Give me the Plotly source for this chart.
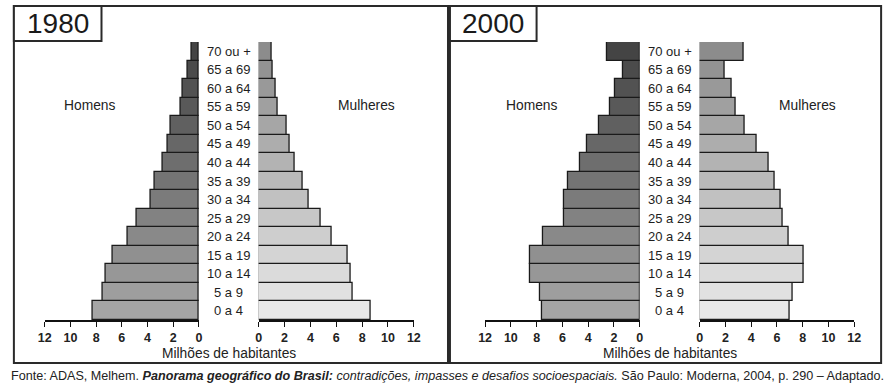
import plotly.graph_objects as go

W, H = 895, 389

age_groups = ["0 a 4", "5 a 9", "10 a 14", "15 a 19", "20 a 24", "25 a 29", "30 a 34",
              "35 a 39", "40 a 44", "45 a 49", "50 a 54", "55 a 59", "60 a 64", "65 a 69", "70 ou +"]

men_1980 = [8.25, 7.48, 7.25, 6.71, 5.57, 4.88, 3.72, 3.42, 2.81, 2.43, 2.2, 1.45, 1.28, 0.84, 0.54]
women_1980 = [8.65, 7.28, 7.13, 6.9, 5.61, 4.77, 3.85, 3.40, 2.79, 2.41, 2.18, 1.49, 1.34, 1.11, 0.99]
men_2000 = [7.55, 7.75, 8.51, 8.51, 7.52, 5.84, 5.84, 5.53, 4.66, 4.08, 3.16, 2.32, 1.94, 1.3, 2.5]
women_2000 = [7.0, 7.23, 8.07, 8.07, 6.93, 6.47, 6.29, 5.83, 5.32, 4.4, 3.49, 2.8, 2.49, 1.93, 3.41]

tick_vals = [0, 2, 4, 6, 8, 10, 12]
axis_title = "Milhões de habitantes"
years = ["1980", "2000"]
side_labels = ["Homens", "Mulheres"]


def px_x(p):
    return p / W


def px_y(p):
    return 1 - p / H


def grey(v):
    v = int(round(v))
    return f"rgb({v},{v},{v})"


n = len(age_groups)
men_colors = [grey(165 - (165 - 68) * i / (n - 1)) for i in range(n)]
women_colors = [grey(232 - (232 - 140) * i / (n - 1)) for i in range(n)]

fig = go.Figure()

panels = [
    dict(men=men_1980, women=women_1980, xm="x", xw="x2",
         dm=(38.3, 195.0), dw=(255.7, 413.3)),
    dict(men=men_2000, women=women_2000, xm="x3", xw="x4",
         dm=(485.7, 642.7), dw=(703.7, 860.7)),
]

for p in panels:
    fig.add_trace(go.Bar(x=p["men"], y=age_groups, orientation="h",
                         xaxis=p["xm"], yaxis="y",
                         marker=dict(color=men_colors, line=dict(color="#1a1a1a", width=1.3)),
                         showlegend=False, hoverinfo="x+y"))
    fig.add_trace(go.Bar(x=p["women"], y=age_groups, orientation="h",
                         xaxis=p["xw"], yaxis="y",
                         marker=dict(color=women_colors, line=dict(color="#1a1a1a", width=1.3)),
                         showlegend=False, hoverinfo="x+y"))

axis_common = dict(
    tickvals=tick_vals, ticktext=[str(v) for v in tick_vals],
    showgrid=False, zeroline=False, showline=True, linecolor="#111", linewidth=1.5,
    ticks="outside", ticklen=5, tickwidth=1.3, tickcolor="#111",
    tickfont=dict(family="Liberation Sans", size=12.5, color="#222", weight="bold"),
    anchor="y", fixedrange=True,
)

layout_axes = {}
names = ["xaxis", "xaxis2", "xaxis3", "xaxis4"]
doms = [panels[0]["dm"], panels[0]["dw"], panels[1]["dm"], panels[1]["dw"]]
for i, (nm, d) in enumerate(zip(names, doms)):
    rng = [12, 0] if i % 2 == 0 else [0, 12]
    layout_axes[nm] = dict(axis_common, domain=[px_x(d[0]), px_x(d[1])], range=rng)

fig.update_layout(
    width=W, height=H,
    margin=dict(l=0, r=0, t=0, b=0),
    paper_bgcolor="white", plot_bgcolor="rgba(0,0,0,0)",
    bargap=0, barmode="overlay",
    yaxis=dict(domain=[px_y(320), px_y(42)], range=[-0.5, n - 0.5],
               showticklabels=False, showgrid=False, zeroline=False, showline=False,
               ticks="", fixedrange=True),
    **layout_axes,
)

shapes = []
annotations = []
# panel frames and title boxes
frames = [(7, 448, 6, 363), (450, 888, 6, 363)]
title_boxes = [(7, 96, 6, 41), (450, 538, 6, 41)]
for fr in frames:
    shapes.append(dict(type="rect", xref="paper", yref="paper",
                       x0=px_x(fr[0]), x1=px_x(fr[1]), y0=px_y(fr[3]), y1=px_y(fr[2]),
                       line=dict(color="#2a2a2a", width=2)))
for tb, yr in zip(title_boxes, years):
    shapes.append(dict(type="rect", xref="paper", yref="paper",
                       x0=px_x(tb[0]), x1=px_x(tb[1]), y0=px_y(tb[3]), y1=px_y(tb[2]),
                       line=dict(color="#2a2a2a", width=2), fillcolor="white"))
    annotations.append(dict(text=yr, xref="paper", yref="paper",
                            x=px_x((tb[0] + tb[1]) / 2), y=px_y(23.5),
                            showarrow=False, xanchor="center", yanchor="middle",
                            font=dict(family="Liberation Sans", size=28, color="#1a1a1a")))

centers = [225.5, 673.2]
for c in centers:
    for g in age_groups:
        annotations.append(dict(text=g, xref="paper", yref="y", x=px_x(c), y=g,
                                showarrow=False, xanchor="center", yanchor="middle",
                                font=dict(family="Liberation Sans", size=13, color="#1e1e1e")))
    annotations.append(dict(text=axis_title, xref="paper", yref="paper",
                            x=px_x(c), y=px_y(353), showarrow=False,
                            xanchor="center", yanchor="middle",
                            font=dict(family="Liberation Sans", size=13.8, color="#222")))

side_pos = [(84, 365), (533, 813)]
for sp in side_pos:
    for xp, lab in zip(sp, side_labels):
        annotations.append(dict(text=lab, xref="paper", yref="paper",
                                x=px_x(xp), y=px_y(105), showarrow=False,
                                xanchor="center", yanchor="middle",
                                font=dict(family="Liberation Sans", size=13.8, color="#222")))

source = ("Fonte: ADAS, Melhem. <b><i>Panorama geográfico do Brasil:</i></b> <i>contradições, impasses e "
          "desafios socioespaciais.</i> São Paulo: Moderna, 2004, p. 290 – Adaptado.")
annotations.append(dict(text=source, xref="paper", yref="paper", x=px_x(447), y=px_y(376),
                        showarrow=False, xanchor="center", yanchor="middle",
                        font=dict(family="Liberation Sans", size=12.6, color="#222")))

fig.update_layout(shapes=shapes, annotations=annotations)

fig.write_html("out.html", config={"displayModeBar": False},
               post_script="document.body.style.margin='0';document.body.style.overflow='hidden';")
